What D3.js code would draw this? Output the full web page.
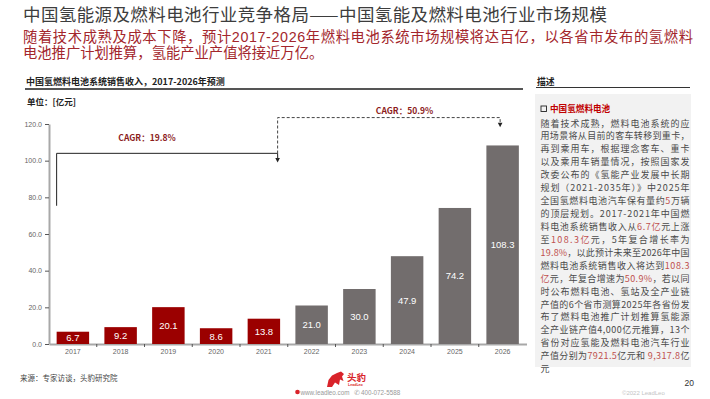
<!DOCTYPE html>
<html>
<head>
<meta charset="utf-8">
<title>中国氢燃料电池系统销售收入，2017-2026年预测</title>
<style>
  body { margin: 0; background: #fff; }
  svg text { font-family: "Liberation Sans", "Noto Sans CJK SC", sans-serif; }
  svg text.cjk { font-family: "Noto Sans CJK SC", "Liberation Sans", sans-serif; }
</style>
</head>
<body>
<svg id="page" width="710" height="399"></svg>
<script src="https://cdn.jsdelivr.net/npm/d3@7"></script>
<script>
// ---- data ----
var years = ["2017", "2018", "2019", "2020", "2021", "2022", "2023", "2024", "2025", "2026"];
var revenue = [6.7, 9.2, 20.1, 8.6, 13.8, 21.0, 30.0, 47.9, 74.2, 108.3];
var forecast = [false, false, false, false, false, true, true, true, true, true];
var yTicks = [0, 20, 40, 60, 80, 100, 120];
var cagrText = ["CAGR：19.8%", "CAGR：50.9%"];

var pageTitle = "中国氢能源及燃料电池行业竞争格局——中国氢能及燃料电池行业市场规模";
var pageSub = ["随着技术成熟及成本下降，预计2017-2026年燃料电池系统市场规模将达百亿，以各省市发布的氢燃料",
               "电池推广计划推算，氢能产业产值将接近万亿。"];
var chartTitle = "中国氢燃料电池系统销售收入，2017-2026年预测";
var unitText = "单位：[亿元]";
var source = "来源：专家访谈，头豹研究院";

// {} marks red text
var descLines = [
  "随着技术成熟，燃料电池系统的应",
  "用场景将从目前的客车转移到重卡，",
  "再到乘用车，根据理念客车、重卡",
  "以及乘用车销量情况，按照国家发",
  "改委公布的《氢能产业发展中长期",
  "规划（2021-2035年）》中2025年",
  "全国氢燃料电池汽车保有量约{5}万辆",
  "的顶层规划。2017-2021年中国燃",
  "料电池系统销售收入从{6.7亿}元上涨",
  "至{108.3亿}元，5年复合增长率为",
  "{19.8%}，以此预计未来至2026年中国",
  "燃料电池系统销售收入将达到{108.3}",
  "{亿}元，年复合增速为{50.9%}，若以同",
  "时公布燃料电池、氢站及全产业链",
  "产值的6个省市测算2025年各省份发",
  "布了燃料电池推广计划推算氢能源",
  "全产业链产值4,000亿元推算，13个",
  "省份对应氢能及燃料电池汽车行业",
  "产值分别为{7921.5}亿元和 {9,317.8}亿",
  "元"
];

var svg = d3.select("#page");

// ---- page header ----
svg.append("text").attr("class", "cjk")
  .attr("x", 23).attr("y", 21)
  .attr("font-size", 17.5).attr("fill", "#3d3d3d")
  .attr("textLength", 584).attr("lengthAdjust", "spacing")
  .text(pageTitle);

svg.selectAll("text.sub").data(pageSub).enter().append("text")
  .attr("class", "sub")
  .attr("x", 23).attr("y", function(d, i) { return 41.5 + i * 16; })
  .attr("font-size", 14.3).attr("fill", "#a3262c")
  .attr("textLength", function(d, i) { return i == 0 ? 670 : null; })
  .attr("lengthAdjust", "spacing")
  .text(function(d) { return d; });

// ---- chart header ----
svg.append("text").attr("class", "cjk")
  .attr("x", 26).attr("y", 85)
  .attr("font-size", 9).attr("font-weight", "bold").attr("fill", "#222")
  .text(chartTitle);
svg.append("line")
  .attr("x1", 25).attr("x2", 523).attr("y1", 89).attr("y2", 89)
  .attr("stroke", "#555").attr("stroke-width", 2);
svg.append("text").attr("class", "cjk")
  .attr("x", 27).attr("y", 104.5)
  .attr("font-size", 8.5).attr("font-weight", "bold").attr("fill", "#222")
  .text(unitText);

// ---- scales ----
var x = d3.scaleBand().domain(years).range([49, 526.5])
  .paddingInner(0.32).paddingOuter(0.16);
var y = d3.scaleLinear().domain([0, 120]).range([344, 124]);

// y axis
var yAxis = svg.append("g")
  .attr("transform", "translate(49,0)")
  .call(d3.axisLeft(y).tickValues(yTicks).tickFormat(d3.format(".1f"))
    .tickSize(4).tickSizeOuter(0).tickPadding(3));
yAxis.select(".domain").attr("stroke", "#a8a8a8").attr("stroke-width", 2);
yAxis.selectAll(".tick line").attr("stroke", "#555");
yAxis.selectAll(".tick text").attr("font-size", 7).attr("fill", "#666")
  .attr("font-family", "Liberation Sans, sans-serif");

// x axis
var xAxis = svg.append("g")
  .attr("transform", "translate(0,344)")
  .call(d3.axisBottom(x).tickSize(0).tickSizeOuter(0).tickPadding(5));
xAxis.select(".domain").attr("stroke", "#a8a8a8").attr("stroke-width", 2);
xAxis.selectAll(".tick text").attr("font-size", 7).attr("fill", "#666")
  .attr("font-family", "Liberation Sans, sans-serif");

// small ticks between categories
svg.selectAll("line.sep").data(years.slice(1)).enter().append("line")
  .attr("class", "sep")
  .attr("x1", function(d) { return x(d) - x.step() * x.paddingInner() / 2; })
  .attr("x2", function(d) { return x(d) - x.step() * x.paddingInner() / 2; })
  .attr("y1", 344).attr("y2", 347)
  .attr("stroke", "#555").attr("stroke-width", 1);

// bars
svg.selectAll("rect.bar").data(revenue).enter().append("rect")
  .attr("class", "bar")
  .attr("x", function(d, i) { return x(years[i]); })
  .attr("width", x.bandwidth())
  .attr("y", function(d) { return y(d); })
  .attr("height", function(d) { return y(0) - y(d); })
  .attr("fill", function(d, i) { return forecast[i] ? "#726d6d" : "#9b0000"; });

svg.selectAll("text.val").data(revenue).enter().append("text")
  .attr("class", "val")
  .attr("x", function(d, i) { return x(years[i]) + x.bandwidth() / 2; })
  .attr("y", function(d) { return (y(d) + y(0)) / 2; })
  .attr("dy", "0.36em")
  .attr("text-anchor", "middle")
  .attr("font-size", 9.5).attr("fill", "#fff")
  .text(function(d) { return d.toFixed(1); });

// ---- CAGR brackets ----
function arrowDown(px, tip) {
  svg.append("path")
    .attr("d", "M" + (px - 2.3) + "," + (tip - 4.5) + "L" + (px + 2.3) + "," + (tip - 4.5) + "L" + px + "," + tip + "Z")
    .attr("fill", "#222");
}

var xL = x(years[0]);
var xM = x(years[4]) + x.bandwidth() - 2.5;
var xR = x(years[9]) + x.bandwidth() / 2 - 2.5;

svg.append("path")
  .attr("d", "M" + xL + "," + y(75.4) + "V" + y(104) + "H" + xM + "V" + (y(99) - 3))
  .attr("fill", "none").attr("stroke", "#222").attr("stroke-width", 1);
arrowDown(xM, y(99));

svg.append("path")
  .attr("d", "M" + xM + "," + (y(99) - 4) + "V" + y(123.5) + "H" + xR + "V" + (y(118.2) - 3))
  .attr("fill", "none").attr("stroke", "#444").attr("stroke-width", 1)
  .attr("stroke-dasharray", "3,2");
arrowDown(xR, y(118.2));

svg.append("text").attr("class", "cjk")
  .attr("x", 147).attr("y", 140.7)
  .attr("text-anchor", "middle").attr("font-size", 8.5).attr("font-weight", "bold")
  .attr("fill", "#8c1c1c").text(cagrText[0]);
svg.append("text").attr("class", "cjk")
  .attr("x", 404.5).attr("y", 114.3)
  .attr("text-anchor", "middle").attr("font-size", 8.5).attr("font-weight", "bold")
  .attr("fill", "#8c1c1c").text(cagrText[1]);

// ---- description panel ----
svg.append("text").attr("class", "cjk")
  .attr("x", 537).attr("y", 84.8)
  .attr("font-size", 8.8).attr("font-weight", "bold").attr("fill", "#222")
  .text("描述");
svg.append("line")
  .attr("x1", 536).attr("x2", 690).attr("y1", 87.5).attr("y2", 87.5)
  .attr("stroke", "#333").attr("stroke-width", 1);
svg.append("rect")
  .attr("x", 535).attr("y", 94).attr("width", 156).attr("height", 273)
  .attr("fill", "#f2f2f2");

svg.append("rect")
  .attr("x", 541).attr("y", 106).attr("width", 5.5).attr("height", 5.5)
  .attr("fill", "none").attr("stroke", "#222").attr("stroke-width", 0.9);
svg.append("text").attr("class", "cjk")
  .attr("x", 550).attr("y", 112.3)
  .attr("font-size", 8.6).attr("font-weight", "bold").attr("fill", "#c00000")
  .text("中国氢燃料电池");

var desc = svg.selectAll("text.desc").data(descLines).enter().append("text")
  .attr("class", "cjk desc")
  .attr("x", 540.5)
  .attr("y", function(d, i) { return 126.5 + i * 12.93; })
  .attr("font-size", 9).attr("fill", "#4a4a4a")
  .attr("textLength", function(d, i) { return i < descLines.length - 1 ? 149 : null; })
  .attr("lengthAdjust", "spacing");

desc.each(function(line) {
  var parts = line.split(/(\{[^}]*\})/).filter(function(s) { return s.length; });
  var t = d3.select(this);
  parts.forEach(function(p) {
    var red = p.charAt(0) == "{";
    t.append("tspan")
      .attr("fill", red ? "#c0504d" : null)
      .text(red ? p.slice(1, -1) : p);
  });
});

// ---- footer ----
svg.append("text").attr("class", "cjk")
  .attr("x", 20).attr("y", 380.5)
  .attr("font-size", 7.5).attr("fill", "#444")
  .text(source);

// logo mark
svg.append("path")
  .attr("d", "M327,387 L328.5,380 L332,375.5 L337,373 L341,371.5 L344,374 L342,376.5 L343.5,381 L340,379.5 L339,385 L335,382.5 L332,387 Z")
  .attr("fill", "#d9232a");
svg.append("text").attr("class", "cjk")
  .attr("x", 347).attr("y", 381)
  .attr("font-size", 9.5).attr("font-weight", "bold").attr("fill", "#d9232a")
  .text("头豹");
svg.append("text")
  .attr("x", 348).attr("y", 386.3)
  .attr("font-size", 3.6).attr("font-weight", "bold").attr("fill", "#d9232a")
  .text("LeadLeo");
svg.append("circle")
  .attr("cx", 297.5).attr("cy", 392).attr("r", 2.3).attr("fill", "#d9232a");
svg.append("text")
  .attr("x", 300.5).attr("y", 394.5)
  .attr("font-size", 6.3).attr("fill", "#999")
  .text("www.leadleo.com");
svg.append("text")
  .attr("x", 353.5).attr("y", 394.8)
  .attr("font-size", 7).attr("fill", "#aaa")
  .attr("font-family", "DejaVu Sans, sans-serif")
  .text("✆");
svg.append("text")
  .attr("x", 361).attr("y", 394.5)
  .attr("font-size", 6.3).attr("fill", "#999")
  .text("400-072-5588");

svg.append("text")
  .attr("x", 622).attr("y", 394.5)
  .attr("font-size", 6).attr("fill", "#c4c4c4")
  .text("©2022 LeadLeo");
svg.append("text")
  .attr("x", 694).attr("y", 386)
  .attr("text-anchor", "end")
  .attr("font-size", 8.5).attr("fill", "#333")
  .text("20");
</script>
</body>
</html>
